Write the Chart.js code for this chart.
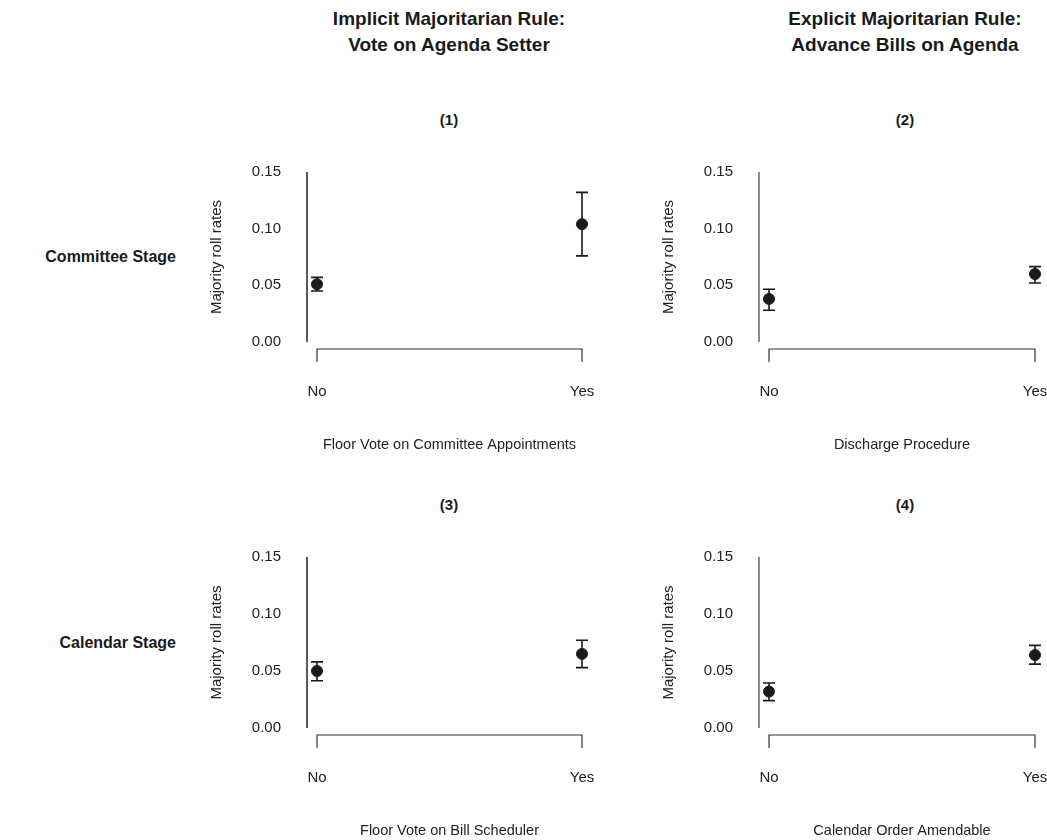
<!DOCTYPE html>
<html>
<head>
<meta charset="utf-8">
<script src="https://cdn.jsdelivr.net/npm/chart.js@4.4.0/dist/chart.umd.min.js"></script>
<style>
body { margin: 0; background: #fff; width: 1047px; height: 840px; overflow: hidden; position: relative;
       font-family: 'Liberation Sans', Arial, sans-serif; color: #1a1a1a; }
.abs { position: absolute; }
.head { font-weight: bold; font-size: 19px; line-height: 26px; text-align: center; width: 400px; }
.num { font-weight: bold; font-size: 15px; line-height: 18px; text-align: center; width: 100px; }
.row { font-weight: bold; font-size: 16px; line-height: 20px; text-align: right; width: 170px; }
canvas { position: absolute; }
</style>
</head>
<body>
<div class="abs head" style="left:249px;top:6px">Implicit Majoritarian Rule:<br>Vote on Agenda Setter</div>
<div class="abs head" style="left:705px;top:6px">Explicit Majoritarian Rule:<br>Advance Bills on Agenda</div>
<div class="abs num" style="left:399px;top:111px">(1)</div>
<div class="abs num" style="left:855px;top:111px">(2)</div>
<div class="abs num" style="left:399px;top:496px">(3)</div>
<div class="abs num" style="left:855px;top:496px">(4)</div>
<div class="abs row" style="left:6px;top:247px">Committee Stage</div>
<div class="abs row" style="left:6px;top:633px">Calendar Stage</div>

<canvas id="p1" width="396" height="297" style="left:200px;top:160px"></canvas>
<canvas id="p2" width="397" height="297" style="left:652px;top:160px"></canvas>
<canvas id="p3" width="396" height="298" style="left:200px;top:545px"></canvas>
<canvas id="p4" width="397" height="298" style="left:652px;top:545px"></canvas>

<script>
// categories and tick labels
const categories = ['No', 'Yes'];
const yTicks = [0, 0.05, 0.10, 0.15];
const yTitle = 'Majority roll rates';
const xTitles = [
    'Floor Vote on Committee Appointments',
    'Discharge Procedure',
    'Floor Vote on Bill Scheduler',
    'Calendar Order Amendable'
];

// point estimates and confidence intervals, per panel
const est1 = [0.051, 0.104];
const lo1  = [0.045, 0.076];
const hi1  = [0.057, 0.132];

const est2 = [0.038, 0.060];
const lo2  = [0.028, 0.052];
const hi2  = [0.0465, 0.0665];

const est3 = [0.050, 0.065];
const lo3  = [0.0415, 0.053];
const hi3  = [0.058, 0.077];

const est4 = [0.032, 0.064];
const lo4  = [0.024, 0.056];
const hi4  = [0.0395, 0.0725];

Chart.defaults.font.family = "'Liberation Sans', Arial, sans-serif";
Chart.defaults.color = '#222';

// R style detached axes plus error bars
const rAxesAndBars = {
    id: 'rAxesAndBars',
    beforeDatasetsDraw(chart) {
        const { ctx, chartArea, scales: { x, y } } = chart;
        const ds = chart.data.datasets[0];
        const y0 = y.getPixelForValue(yTicks[0]);
        const yTop = y.getPixelForValue(yTicks[yTicks.length - 1]);
        const xl = x.getPixelForValue(0);
        const xr = x.getPixelForValue(categories.length - 1);
        ctx.save();
        // y axis line
        ctx.strokeStyle = ds.axisColor;
        ctx.lineWidth = 1.5;
        ctx.beginPath();
        ctx.moveTo(chartArea.left - 10, y0);
        ctx.lineTo(chartArea.left - 10, yTop);
        ctx.stroke();
        // x axis line with end ticks
        ctx.strokeStyle = '#333';
        ctx.lineWidth = 1.2;
        ctx.beginPath();
        ctx.moveTo(xl, y0 + 20);
        ctx.lineTo(xl, y0 + 7);
        ctx.lineTo(xr, y0 + 7);
        ctx.lineTo(xr, y0 + 20);
        ctx.stroke();
        // error bars
        ctx.strokeStyle = '#1a1a1a';
        ctx.lineWidth = 1.6;
        ds.errLo.forEach((v, i) => {
            const px = x.getPixelForValue(i);
            const pLo = y.getPixelForValue(v);
            const pHi = y.getPixelForValue(ds.errHi[i]);
            ctx.beginPath();
            ctx.moveTo(px, pLo); ctx.lineTo(px, pHi);
            ctx.moveTo(px - 6, pLo); ctx.lineTo(px + 6, pLo);
            ctx.moveTo(px - 6, pHi); ctx.lineTo(px + 6, pHi);
            ctx.stroke();
        });
        ctx.restore();
    }
};

function makePanel(id, est, lo, hi, xTitle, axisColor) {
    new Chart(document.getElementById(id), {
        type: 'line',
        data: {
            labels: categories,
            datasets: [{
                data: est,
                errLo: lo,
                errHi: hi,
                axisColor: axisColor,
                showLine: false,
                pointRadius: 5.5,
                pointHoverRadius: 5.5,
                pointBackgroundColor: '#1a1a1a',
                pointBorderColor: '#1a1a1a',
                clip: false
            }]
        },
        options: {
            responsive: false,
            animation: false,
            layout: { padding: { top: 12, right: 14, left: 0, bottom: 0 } },
            plugins: { legend: { display: false }, tooltip: { enabled: false } },
            scales: {
                x: {
                    type: 'category',
                    offset: false,
                    // tick marks hidden, tickLength only pushes the labels down
                    grid: { display: false, drawTicks: true, tickLength: 41 },
                    border: { display: false },
                    ticks: { padding: 0, color: '#222', font: { size: 15 } },
                    title: { display: true, text: xTitle, color: '#222', font: { size: 14.5 }, padding: { top: 0, bottom: 3 } },
                    afterFit(s) { s.height = 115; }
                },
                y: {
                    min: 0,
                    max: 0.15,
                    grid: { display: false, drawTicks: true, tickLength: 36 },
                    border: { display: false },
                    afterBuildTicks(s) { s.ticks = yTicks.map(v => ({ value: v })); },
                    ticks: { padding: 0, color: '#222', font: { size: 15 }, callback: v => v.toFixed(2) },
                    title: { display: true, text: yTitle, color: '#222', font: { size: 15 }, padding: { top: 8, bottom: 0 } },
                    afterFit(s) { s.width = 117; }
                }
            }
        },
        plugins: [rAxesAndBars]
    });
}

makePanel('p1', est1, lo1, hi1, xTitles[0], '#222');
makePanel('p2', est2, lo2, hi2, xTitles[1], '#666');
makePanel('p3', est3, lo3, hi3, xTitles[2], '#222');
makePanel('p4', est4, lo4, hi4, xTitles[3], '#666');
</script>
</body>
</html>
